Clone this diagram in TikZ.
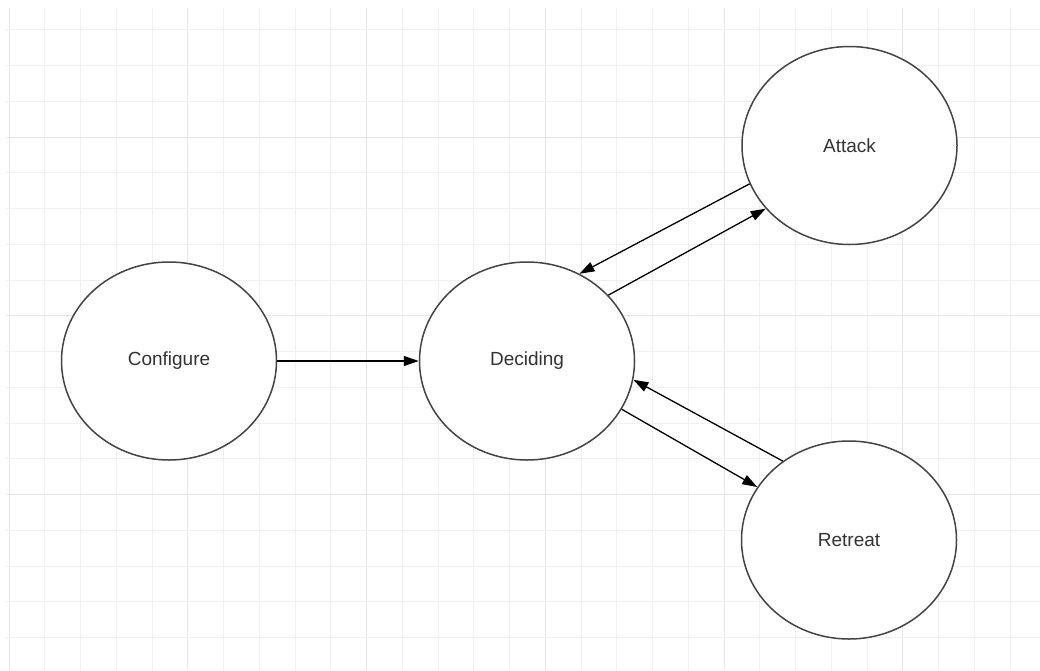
\documentclass[tikz,border=0pt]{standalone}
\usepackage{fontspec}
\setmainfont{Liberation Sans}
\usetikzlibrary{shapes.geometric,arrows.meta}
\definecolor{gridminor}{HTML}{F0F0F0}
\definecolor{gridmajor}{HTML}{E6E6E6}
\definecolor{stroke}{HTML}{444444}
\definecolor{label}{HTML}{333333}
\tikzset{
  state/.style={ellipse, draw=stroke, line width=1.5pt, fill=white,
    minimum width=215pt, minimum height=198pt, inner sep=0pt,
    text=label, font=\fontsize{19}{23}\selectfont},
  trans/.style={draw=black, line width=1.3pt,
    -{Triangle[length=15pt,width=10pt]}},
  minorline/.style={draw=gridminor, line width=1pt},
  majorline/.style={draw=gridmajor, line width=1pt}
}
\begin{document}
\begin{tikzpicture}[x=1pt,y=-1pt]
\useasboundingbox[fill=white] (0,0) rectangle (1040,670);
% background grid
\foreach \k in {0,...,28}{
  \pgfmathsetmacro\xx{9+35.75*\k}
  \pgfmathtruncatemacro\m{mod(\k,5)}
  \ifnum\m=0 \draw[majorline] (\xx,8) -- (\xx,670);
  \else \draw[minorline] (\xx,8) -- (\xx,670); \fi
}
\foreach \k in {-3,...,14}{
  \pgfmathsetmacro\yy{137+35.75*\k}
  \pgfmathtruncatemacro\m{mod(\k+15,5)}
  \ifnum\m=0 \draw[majorline] (6,\yy) -- (1040,\yy);
  \else \draw[minorline] (6,\yy) -- (1040,\yy); \fi
}
% states
\node[state] (configure) at (169,361) {Configure};
\node[state] (deciding) at (527,361) {Deciding};
\node[state] (attack) at (849.5,145.5) {Attack};
\node[state] (retreat) at (849,540) {Retreat};
% transitions
\draw[trans] (configure.east) -- (deciding.west);
\draw[trans] (attack.201.3) -- (deciding.59.8);
\draw[trans] (deciding.39.5) -- (attack.217);
\draw[trans] (retreat.130.7) -- (deciding.-10.8);
\draw[trans] (deciding.-27.7) -- (retreat.150.4);
\end{tikzpicture}
\end{document}
